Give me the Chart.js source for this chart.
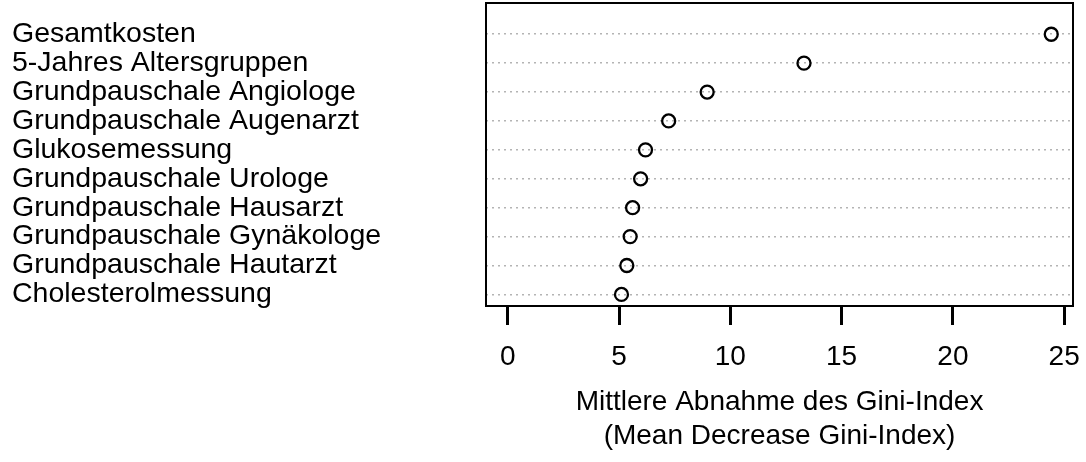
<!DOCTYPE html>
<html>
<head>
<meta charset="utf-8">
<title>Mittlere Abnahme des Gini-Index</title>
<script src="https://cdn.jsdelivr.net/npm/chart.js@4"></script>
<style>
  html, body { margin: 0; padding: 0; background: #fff; }
  #importanceChart { display: block; }
</style>
</head>
<body>
<canvas id="importanceChart" width="1086" height="462"></canvas>
<script>
// variables, sorted from lowest to highest importance (bottom row first)
const features = [
  "Cholesterolmessung",
  "Grundpauschale Hautarzt",
  "Grundpauschale Gynäkologe",
  "Grundpauschale Hausarzt",
  "Grundpauschale Urologe",
  "Glukosemessung",
  "Grundpauschale Augenarzt",
  "Grundpauschale Angiologe",
  "5-Jahres Altersgruppen",
  "Gesamtkosten",
];
const giniDecrease = [5.11, 5.35, 5.5, 5.61, 5.97, 6.19, 7.23, 8.96, 13.31, 24.42];
const xTicks = [0, 5, 10, 15, 20, 25];
const axisTitle = ["Mittlere Abnahme des Gini-Index", "(Mean Decrease Gini-Index)"];

const FONT = "'Liberation Sans', Arial, Helvetica, sans-serif";

// range from 0 to the max, padded 4% on both sides
const maxVal = Math.max(...giniDecrease);
const xMin = -0.04 * maxVal;
const xMax = maxVal * 1.04;

// frame around the plotting region
const boxPlugin = {
  id: "box",
  afterDraw(chart) {
    const { ctx, chartArea } = chart;
    ctx.save();
    ctx.strokeStyle = "#000";
    ctx.lineWidth = 2;
    ctx.strokeRect(chartArea.left, chartArea.top, chartArea.right - chartArea.left, chartArea.bottom - chartArea.top);
    ctx.restore();
  },
};

const ctx = document.getElementById("importanceChart").getContext("2d");
const chart = new Chart(ctx, {
  type: "scatter",
  data: {
    datasets: [
      {
        data: features.map((f, i) => ({ x: giniDecrease[i], y: i + 1 })),
        pointStyle: "circle",
        pointRadius: 6.5,
        pointHoverRadius: 6.5,
        borderWidth: 2.3,
        borderColor: "#000",
        backgroundColor: "rgba(0,0,0,0)",
      },
    ],
  },
  options: {
    responsive: false,
    animation: false,
    layout: { autoPadding: false, padding: { left: 12, top: 3, right: 13, bottom: 0 } },
    plugins: {
      legend: { display: false },
      tooltip: { enabled: false },
    },
    scales: {
      x: {
        type: "linear",
        min: xMin,
        max: xMax,
        afterBuildTicks: (scale) => {
          scale.ticks = xTicks.map((v) => ({ value: v }));
        },
        afterFit: (scale) => {
          scale.height = 156;
          scale.paddingLeft = 0;
          scale.paddingRight = 0;
        },
        border: { display: false },
        grid: {
          drawOnChartArea: false,
          drawTicks: true,
          tickLength: 19,
          tickWidth: 3,
          tickColor: "#000",
          color: "#000",
        },
        ticks: {
          color: "#000",
          padding: 15,
          autoSkip: false,
          font: { family: FONT, size: 28 },
          maxRotation: 0,
        },
        title: {
          display: true,
          text: axisTitle,
          color: "#000",
          font: { family: FONT, size: 28, lineHeight: 1.23 },
          padding: { top: 0, bottom: 8 },
        },
      },
      y: {
        type: "linear",
        min: 0.6,
        max: 11.08,
        afterBuildTicks: (scale) => {
          scale.ticks = features.map((f, i) => ({ value: i + 1 }));
        },
        afterFit: (scale) => {
          scale.width = 474;
          scale.paddingTop = 0;
          scale.paddingBottom = 0;
        },
        border: { display: false, dash: [2, 4] },
        grid: {
          drawTicks: false,
          color: "#b4b4b4",
          lineWidth: 1.5,
        },
        ticks: {
          color: "#000",
          crossAlign: "far",
          padding: 0,
          autoSkip: false,
          font: { family: FONT, size: 28.5 },
          callback: (value) => features[value - 1],
        },
      },
    },
  },
  plugins: [boxPlugin],
});
</script>
</body>
</html>
